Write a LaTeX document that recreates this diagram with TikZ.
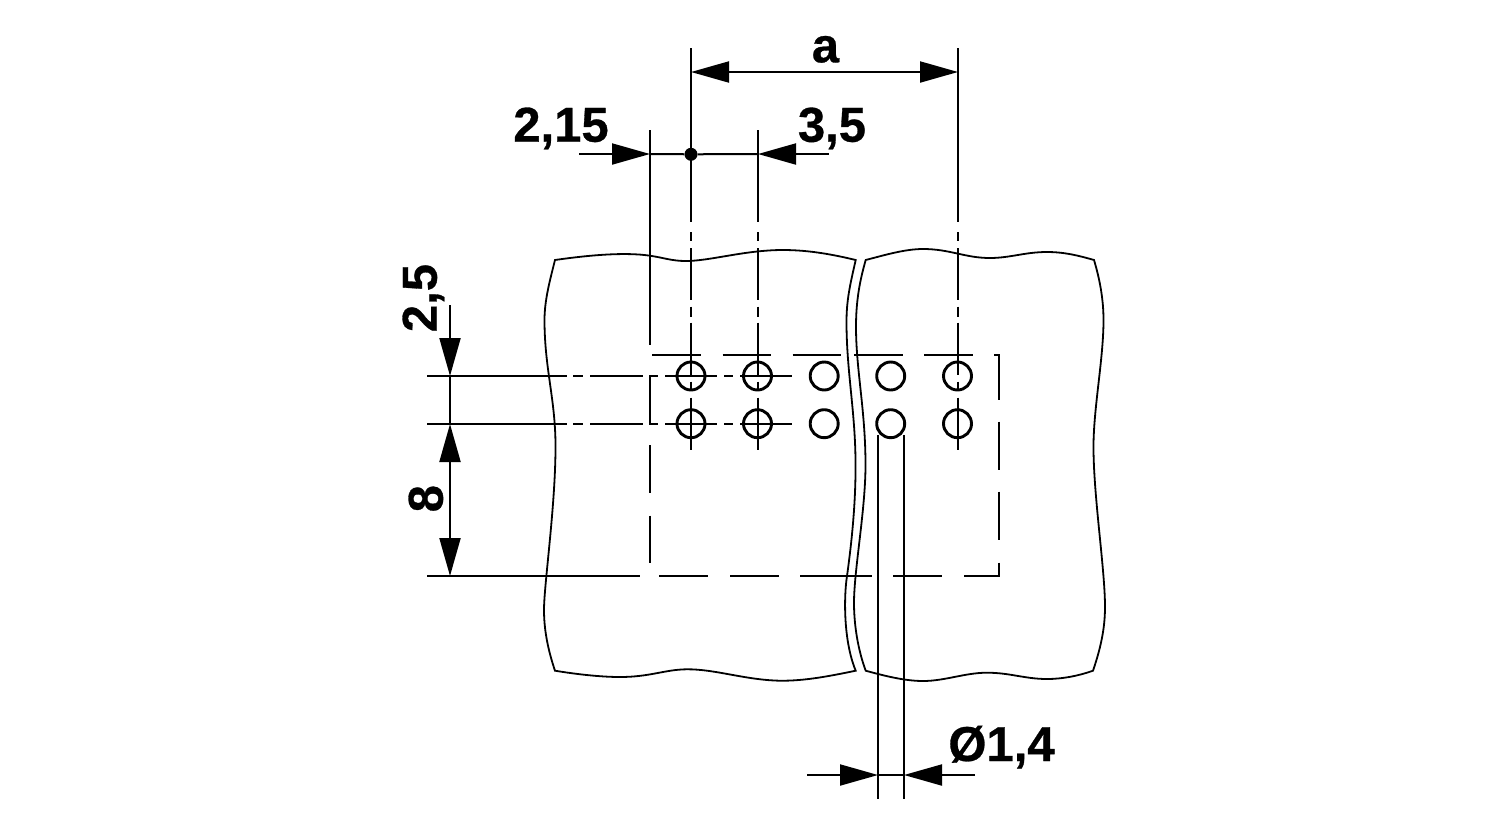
\documentclass[tikz,border=0pt]{standalone}
\usepackage{fontspec}
\setmainfont{Liberation Sans}[BoldFeatures={FakeBold=0.6}]
\usetikzlibrary{
  	positioning,
  	arrows.meta
  }
\tikzstyle{thinline}=[line width=2pt]
\tikzstyle{boxline}=[line width=2.4pt]
\tikzstyle{dimline}=[line width=2pt,-{Triangle[length=38pt,width=21pt]}]
\tikzstyle{hole}=[circle,draw,line width=2.9pt,inner sep=0pt,minimum size=28pt]
\tikzstyle{dot}=[circle,fill=black,inner sep=0pt,minimum size=13pt]
\tikzstyle{dimtext}=[inner sep=0pt,font=\fontsize{49}{50}\selectfont\bfseries,anchor=base]

\begin{document}
\begin{tikzpicture}[x=1pt,y=-1pt]
\useasboundingbox (0,0) rectangle (1500,820);
\draw [line width=1.8pt, line join=miter]
   (555,260) .. controls (590,255) and (625,252) .. (650,255.7)
   .. controls (665,258) and (672,261) .. (686,261)
   .. controls (710,261) and (745,250) .. (783,250)
   .. controls (810,250) and (835,255) .. (855.7,260)
   .. controls (850,285) and (846.5,300) .. (846.5,322)
   .. controls (846.5,370) and (855,410) .. (855.5,460)
   .. controls (856,500) and (852,540) .. (847,576)
   .. controls (844,595) and (843,640) .. (855.7,670.7)
   .. controls (830,676) and (805,681) .. (780,680.7)
   .. controls (745,680) and (715,669) .. (686.7,669.3)
   .. controls (665,669.5) and (650,677) .. (620,677)
   .. controls (600,677) and (575,674) .. (555,670.7)
   .. controls (548,650) and (544,630) .. (544,610)
   .. controls (544,585) and (555,510) .. (555.5,450)
   .. controls (556,400) and (544.5,370) .. (544.5,320)
   .. controls (544.5,300) and (550,280) .. (555,260)
   -- cycle;
\draw [line width=1.8pt, line join=miter]
   (865.7,260) .. controls (885,255) and (905,249) .. (923,249)
   .. controls (950,249) and (965,258) .. (990,258)
   .. controls (1010,258) and (1025,252) .. (1047,252)
   .. controls (1065,252) and (1080,256) .. (1094,260)
   .. controls (1100,280) and (1103.5,300) .. (1103.5,320)
   .. controls (1103.5,360) and (1093,410) .. (1093.5,450)
   .. controls (1094,500) and (1105,570) .. (1105,607)
   .. controls (1105,630) and (1100,650) .. (1093,670.7)
   .. controls (1078,676) and (1062,679) .. (1047,679)
   .. controls (1025,679) and (1010,672.7) .. (987,672.7)
   .. controls (965,672.7) and (945,681) .. (923,681)
   .. controls (905,681) and (885,676) .. (865.7,670.7)
   .. controls (858,650) and (854,625) .. (854,603)
   .. controls (854,570) and (865.5,510) .. (865.5,465)
   .. controls (865.5,410) and (856,370) .. (856,326.7)
   .. controls (856,300) and (860,280) .. (865.7,260)
   -- cycle;
\foreach \xa/\xb in {652.3/701,722.7/771,792.7/841.3,854/902.7,924.3/973.3}
   \draw [boxline] (\xa,355) -- (\xb,355);
\foreach \xa/\xb in {659.3/708.3,730/778.7,800/871.7,893.3/941.7}
   \draw [boxline] (\xa,576) -- (\xb,576);
\foreach \ya/\yb in {421.7/470,491.7/540}
   \draw [boxline] (999,\ya) -- (999,\yb);
\foreach \ya/\yb in {445/493.3,515.7/563.3}
   \draw [boxline] (650,\ya) -- (650,\yb);
\draw [boxline] (994.3,355) -- (999,355) -- (999,400);
\draw [boxline] (999,562.7) -- (999,576) -- (964,576);
\draw [boxline] (657.7,376) -- (650,376) -- (650,424) -- (657.7,424);
\foreach \row in {376,424}{
   \foreach \xa/\xb in {427/566.7,573.3/582.7,590/642.7,665/716.7,724/732.7,740/792.3}
      \draw [thinline] (\xa,\row) -- (\xb,\row);
}
\foreach \col in {691,758,958}{
   \foreach \ya/\yb in {248/300,306.7/316.7,322.7/375,381.7/389,397.7/450}
      \draw [thinline] (\col,\ya) -- (\col,\yb);
   \draw [thinline] (\col,232) -- (\col,241);
}
\draw [thinline] (691,48.3) -- (691,222);
\draw [thinline] (758,130) -- (758,222);
\draw [thinline] (958,48.3) -- (958,222);
\draw [thinline] (650,130) -- (650,345);
\draw [thinline] (427,576) -- (639.7,576);
\draw [thinline] (878,435) -- (878,799);
\draw [thinline] (904,435) -- (904,799);
\foreach \col/\nm in {691/a,757.5/b,824.2/c,890.7/d,957.5/e}{
   \node [hole] (\nm1) at (\col,376) {};
   \node [hole] (\nm2) at (\col,423.7) {};
}
\coordinate (midA) at (824.3,72);
\coordinate (tipAl) at (691,72);
\coordinate (tipAr) at (958,72);
\draw [dimline] (midA) -- (tipAl);
\draw [dimline] (midA) -- (tipAr);
\node [dot] (pole) at (691,154.3) {};
\coordinate (startL) at (579,154);
\coordinate (tipL) at (650,154);
\coordinate (startR) at (828.5,154);
\coordinate (tipR) at (758,154);
\draw [dimline] (startL) -- (tipL);
\draw [dimline] (startR) -- (tipR);
\draw [thinline] (tipL) -- (pole) -- (tipR);
\coordinate (startT) at (450,305);
\coordinate (tipT) at (450,376);
\coordinate (tipM) at (450,424);
\coordinate (midV) at (450,500);
\coordinate (tipB) at (450,576);
\draw [dimline] (startT) -- (tipT);
\draw [thinline] (tipT) -- (tipM);
\draw [dimline] (midV) -- (tipM);
\draw [dimline] (midV) -- (tipB);
\coordinate (startD) at (807,775);
\coordinate (tipD) at (878,775);
\coordinate (startE) at (975,775);
\coordinate (tipE) at (904,775);
\draw [dimline] (startD) -- (tipD);
\draw [dimline] (startE) -- (tipE);
\draw [thinline] (tipD) -- (tipE);
\node [dimtext] (labA) at (825.5,62.3) {a};
\node [dimtext] (labL) at (561,141.7) {2,15};
\node [dimtext] (labR) at (832,141.7) {3,5};
\node [dimtext] (labD) at (1001.5,761) {Ø1,4};
\node [dimtext,rotate=90] (labT) at (436.7,298) {2,5};
\node [dimtext,rotate=90] (labB) at (442.7,498.7) {8};
\end{tikzpicture}
\end{document}
